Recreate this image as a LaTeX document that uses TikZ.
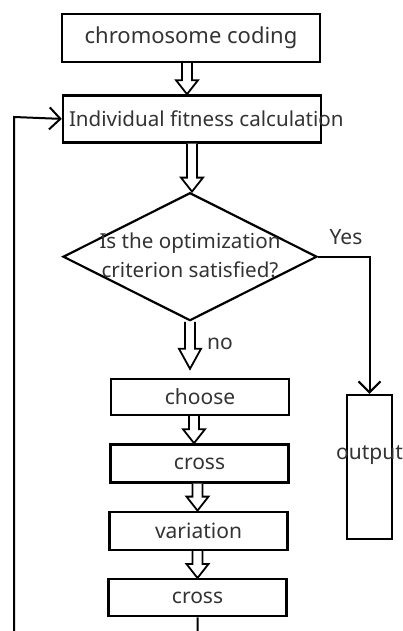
\documentclass[tikz,border=0pt]{standalone}
\usepackage{fontspec}
\setmainfont{Noto Sans}
\usetikzlibrary{positioning,calc,shapes.geometric,arrows.meta}

\tikzset{headlen/.store in=\hollowhead, headlen=14pt}

\begin{document}
\begin{tikzpicture}[
    x=1pt, y=-1pt,
    box/.style={
        draw,
        line width=2.4pt,
        minimum width=258pt,
        minimum height=47pt,
        inner sep=0pt,
        font=\fontsize{21}{25}\selectfont,
        text=black!80,
    },
    small/.style={box, minimum width=178pt, minimum height=37pt},
    decision/.style={
        draw, diamond,
        line width=2.2pt,
        minimum width=254pt,
        minimum height=128pt,
        inner sep=0pt,
        font=\fontsize{20.6}{29}\selectfont,
        text=black!80,
    },
    lbl/.style={inner sep=0pt, font=\fontsize{21}{25}\selectfont, text=black!80},
    line/.style={line width=2pt},
    arrow/.style={line, -{Straight Barb[length=11pt,width=22pt]}},
    hollow/.style={
        line width=1.8pt, fill=white,
        to path={let \p1=(\tikztostart), \p2=(\tikztotarget) in
            (\x1-5pt,\y1) -- (\x1-5pt,\y2+\hollowhead) -- (\x1-11pt,\y2+\hollowhead)
            -- (\x1,\y2) -- (\x1+11pt,\y2+\hollowhead) -- (\x1+5pt,\y2+\hollowhead)
            -- (\x1+5pt,\y1)},
    },
]
\path[use as bounding box] (0,0) rectangle (403,631);
\clip (0,0) rectangle (403,631);

% ----- Nodes: main column -----
\node[box, font=\fontsize{22}{26}\selectfont, minimum height=48pt] (code) at (191,38) {chromosome coding};
\node[box, below=31pt of code, xshift=1pt, font=\fontsize{20.6}{25}\selectfont] (fit) {\makebox[246pt][l]{Individual fitness calculation}};
\node[decision, below=48pt of fit, xshift=-2pt] (crit)
    {\makebox[0pt]{\begin{tabular}{@{}c@{}}Is the optimization\\criterion satisfied?\end{tabular}}};
\node[small, below=56pt of crit, xshift=10pt, minimum height=36pt] (choose) {choose};
\node[small, below=27pt of choose, xshift=-0.5pt, minimum height=38pt] (cross) {cross};
\node[small, below=27pt of cross, xshift=-1pt, minimum height=38pt] (vari) {variation};
\node[small, below=27pt of vari, xshift=-1pt] (recross) {cross};

% ----- Output side -----
\node[draw, line width=2.4pt, minimum width=45pt, minimum height=144pt, lbl] (out) at (369.5,467)
    {\raisebox{8pt}[0pt][0pt]{\makebox[0pt]{output}}};
\node[lbl] (yes) at (346,237) {Yes};
\node[lbl, right=17pt of crit.south, yshift=-22pt] (no) {no};

% ----- Hollow arrows -----
\draw[hollow] ([xshift=-4pt]code.south) to ([xshift=-4pt]fit.north);
\draw[hollow] (fit.south) to (crit.north);
\draw[hollow, headlen=20pt] (crit.south) to ([yshift=9pt]choose.north);
\draw[hollow] ([xshift=-6pt]choose.south) to ([xshift=-6pt]cross.north);
\draw[hollow] ([xshift=-2pt]cross.south) to ([xshift=-2pt]vari.north);
\draw[hollow] ([xshift=-1pt]vari.south) to ([xshift=-1pt]recross.north);

% ----- Connectors -----
\draw[arrow] (crit.east) -| (out.north);
\coordinate (back) at (14,117);
\draw[arrow] (recross.south) -- ++(0,60) -| (back) -- (fit.west);

\end{tikzpicture}
\end{document}
